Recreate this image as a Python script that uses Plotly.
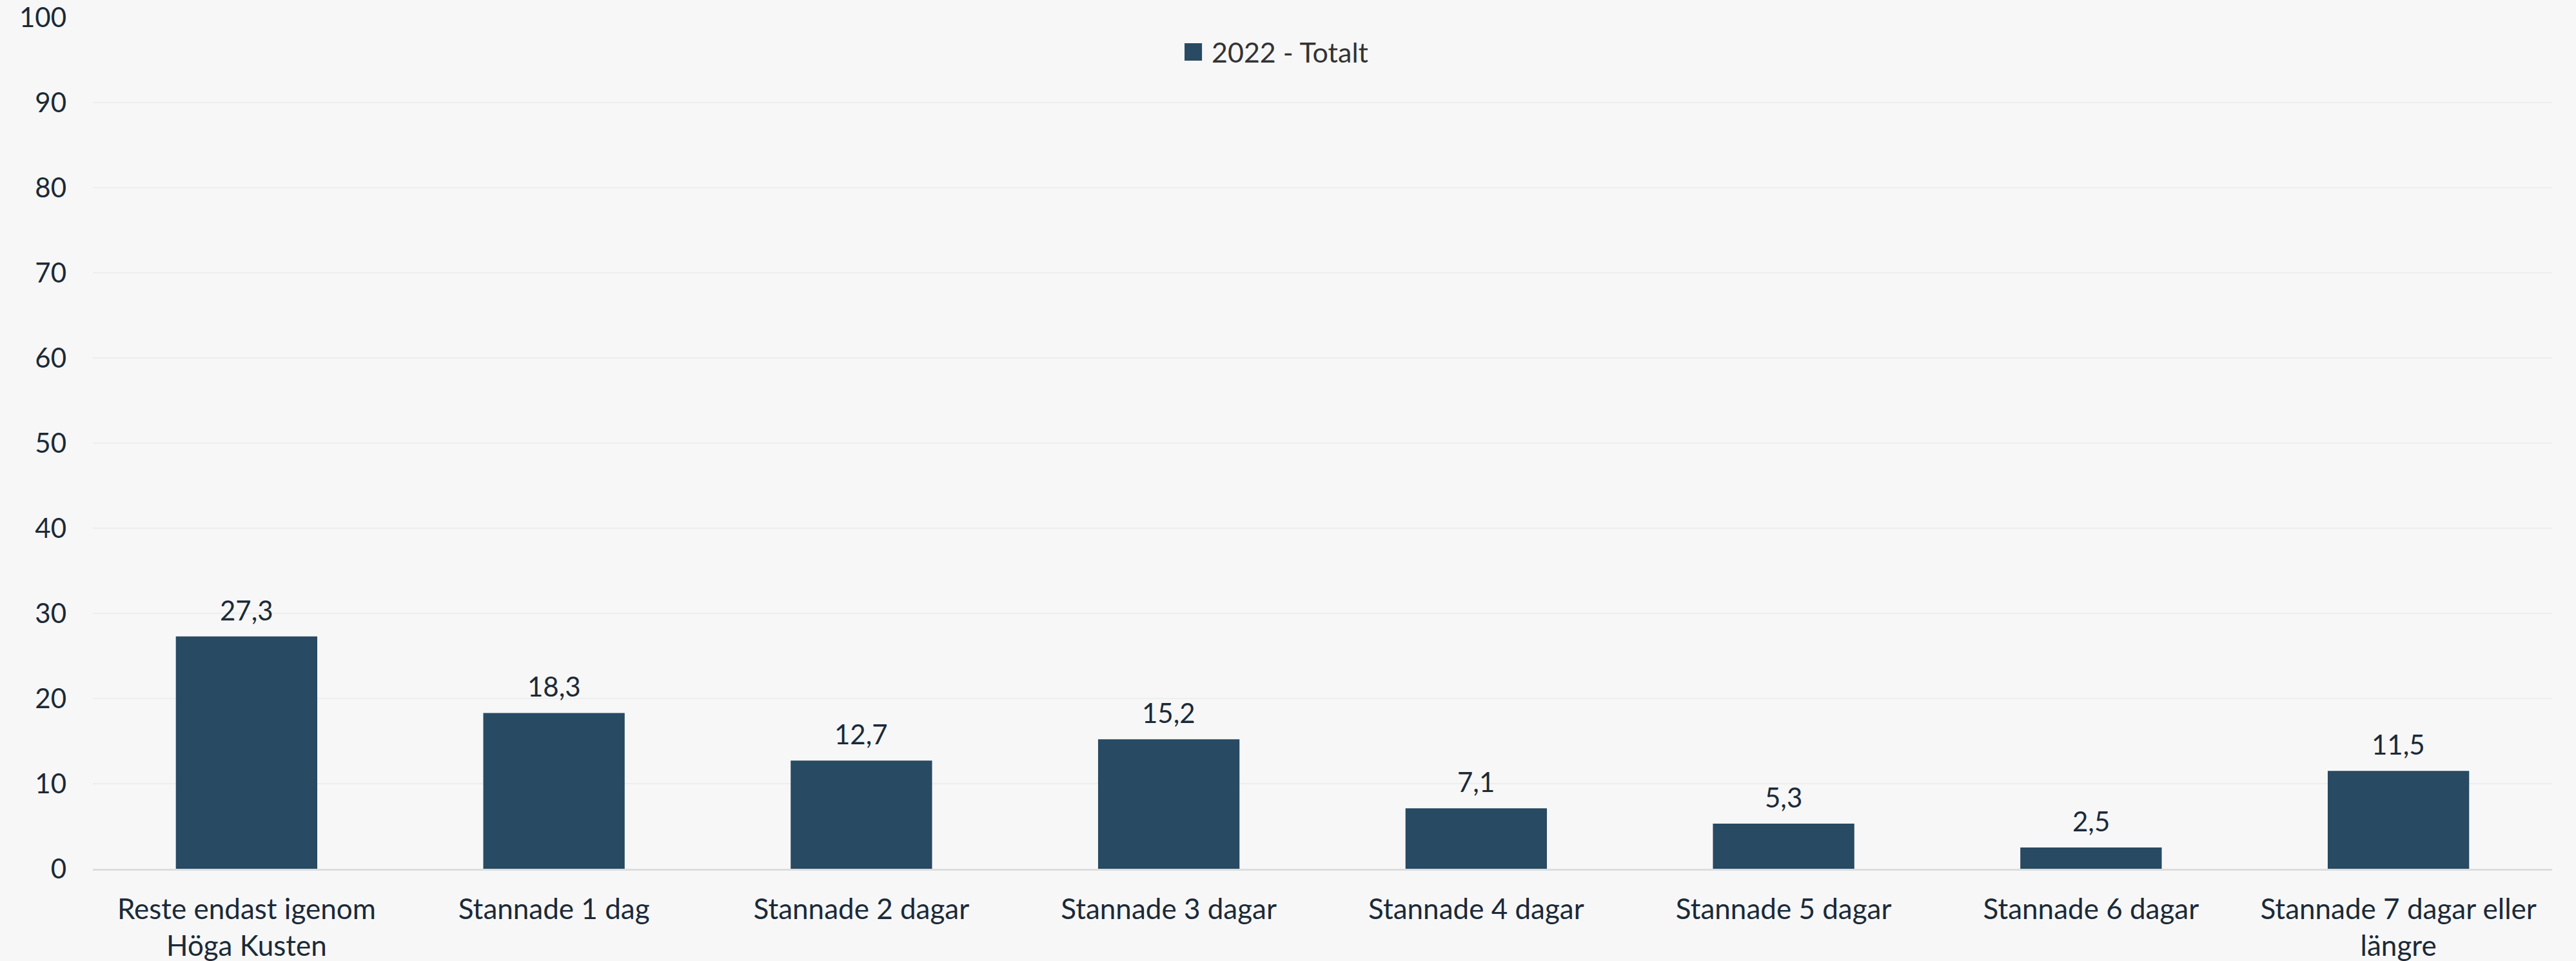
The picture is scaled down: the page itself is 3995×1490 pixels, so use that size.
import plotly.graph_objects as go

categories = ["Reste endast igenom<br>Höga Kusten", "Stannade 1 dag", "Stannade 2 dagar",
              "Stannade 3 dagar", "Stannade 4 dagar", "Stannade 5 dagar",
              "Stannade 6 dagar", "Stannade 7 dagar eller<br>längre"]
values = [27.3, 18.3, 12.7, 15.2, 7.1, 5.3, 2.5, 11.5]
series_name = "2022 - Totalt"
y_ticks = [0, 10, 20, 30, 40, 50, 60, 70, 80, 90, 100]

FONT = "Lato"
BAR = "#284A63"
TXT = "#1B2A38"

fig = go.Figure()
fig.add_trace(go.Bar(
    x=categories, y=values, name=series_name, showlegend=False,
    marker=dict(color=BAR, line=dict(width=0)),
    width=0.46,
))

for c, v in zip(categories, values):
    fig.add_annotation(x=c, y=v, text=f"{v:.1f}".replace(".", ","),
                       showarrow=False, yanchor="bottom", yshift=14,
                       font=dict(family=FONT, size=42, color=TXT))

# legend (swatch + label)
fig.add_shape(type="rect", xref="paper", yref="paper",
              x0=0.4439, x1=0.4510, y0=0.9492, y1=0.9697,
              fillcolor=BAR, line=dict(width=0))
fig.add_annotation(xref="paper", yref="paper", x=0.4544, y=0.9598,
                   xanchor="left", yanchor="middle", showarrow=False,
                   text=series_name, font=dict(family=FONT, size=43, color="#333333"))

fig.update_layout(
    width=3995, height=1490,
    paper_bgcolor="#F7F7F7", plot_bgcolor="#F7F7F7",
    margin=dict(l=144, r=37, t=27, b=143, autoexpand=False),
    showlegend=False,
    font=dict(family=FONT, size=42, color=TXT),
)
fig.update_yaxes(range=[0, 100], tickvals=y_ticks, showgrid=True, gridcolor="#EEEEEE",
                 gridwidth=2, zeroline=False, showline=False, ticks="",
                 ticklabelstandoff=40, automargin=False,
                 tickfont=dict(family=FONT, size=42, color=TXT))
fig.update_xaxes(showline=True, linecolor="#DDDDDD", linewidth=3, ticks="",
                 ticklabelstandoff=22, automargin=False,
                 tickfont=dict(family=FONT, size=44, color=TXT))

fig.write_html("out.html", config={"displayModeBar": False},
               post_script="document.body.style.margin='0';document.body.style.padding='0';")
